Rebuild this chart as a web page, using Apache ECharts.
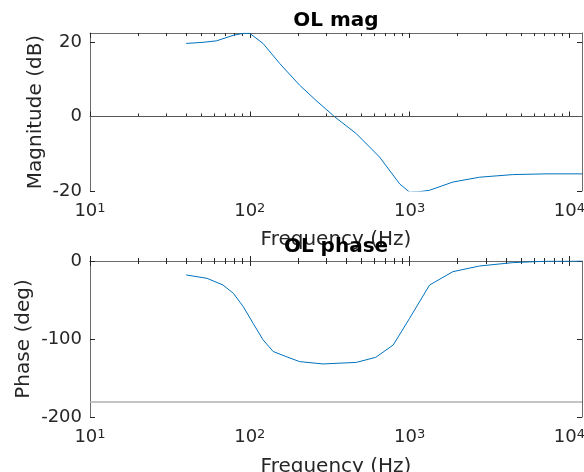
<!DOCTYPE html>
<html>
<head>
<meta charset="utf-8">
<script src="https://cdn.jsdelivr.net/npm/echarts@6/dist/echarts.min.js"></script>
<style>
  html, body { margin: 0; padding: 0; background: #fff; }
  #chart { width: 584px; height: 472px; }
</style>
</head>
<body>
<div id="chart"></div>
<script>
// open loop response
const magFreq = [40, 51, 62, 79, 91, 100, 121, 154, 205, 260, 340, 464, 649, 867, 1000, 1150, 1334, 1866, 2738, 4426, 7147, 12000];
const magDb = [19.6, 19.9, 20.3, 21.8, 22.3, 22.3, 19.6, 14.2, 8.4, 4.3, -0.1, -4.6, -10.9, -18.1, -20.3, -20.2, -19.8, -17.6, -16.3, -15.6, -15.4, -15.4];

const phaseFreq = [40, 54, 68, 79, 91, 105, 121, 140, 169, 205, 287, 464, 614, 790, 1000, 1334, 1866, 2738, 4426, 7147, 12000];
const phaseDeg = [-17.9, -22.2, -30.8, -41.5, -58.5, -80, -101, -116, -122.6, -129, -132, -130, -123.5, -107.7, -73.5, -30.8, -13.7, -6.4, -2.1, -0.3, 0];

const majorTicks = [10, 100, 1000, 10000];
const minorTicks = [20, 30, 40, 50, 60, 70, 80, 90, 200, 300, 400, 500, 600, 700, 800, 900,
  2000, 3000, 4000, 5000, 6000, 7000, 8000, 9000];
const magTicks = [-20, 0, 20];
const phaseTicks = [-200, -100, 0];

const FONT = 'DejaVu Sans';
const TXT = '#262626';
const LINE = '#6b6b6b';
const BLUE = '#0072BD';

const chart = echarts.init(document.getElementById('chart'));

function xAxes(grid, gap) {
  const base = {
    type: 'log', logBase: 10, min: 10, max: 12000, gridIndex: grid,
    splitLine: { show: false }
  };
  return [
    Object.assign({}, base, {
      position: 'bottom',
      axisLine: { show: true, lineStyle: { color: LINE, width: 1 } },
      axisTick: { show: true, inside: true, length: 5, customValues: majorTicks, lineStyle: { color: TXT } },
      axisLabel: {
        show: true, margin: 11, customValues: majorTicks,
        formatter: v => '{b|10}{s|' + Math.round(Math.log10(v)) + '}',
        rich: {
          b: { fontFamily: FONT, fontSize: 18, color: TXT, lineHeight: 26, verticalAlign: 'top' },
          s: { fontFamily: FONT, fontSize: 13, color: TXT, lineHeight: 10, verticalAlign: 'top' }
        }
      },
      name: 'Frequency (Hz)', nameLocation: 'middle', nameGap: gap, nameMoveOverlap: false,
      nameTextStyle: { fontFamily: FONT, fontSize: 20, color: TXT }
    }),
    Object.assign({}, base, {
      position: 'bottom',
      axisLine: { show: false },
      axisTick: { show: true, inside: true, length: 3, customValues: minorTicks, lineStyle: { color: TXT } },
      axisLabel: { show: false }
    }),
    Object.assign({}, base, {
      position: 'top',
      axisLine: { show: true, lineStyle: { color: LINE, width: 1 } },
      axisTick: { show: true, inside: true, length: 5, customValues: majorTicks, lineStyle: { color: TXT } },
      axisLabel: { show: false }
    }),
    Object.assign({}, base, {
      position: 'top',
      axisLine: { show: false },
      axisTick: { show: true, inside: true, length: 3, customValues: minorTicks, lineStyle: { color: TXT } },
      axisLabel: { show: false }
    })
  ];
}

function yAxes(grid, min, max, ticks, name, gap) {
  const base = {
    type: 'value', min: min, max: max, gridIndex: grid,
    splitLine: { show: false },
    axisLine: { show: true, lineStyle: { color: LINE, width: 1 } },
    axisTick: { show: true, inside: true, length: 5, customValues: ticks, lineStyle: { color: TXT } }
  };
  return [
    Object.assign({}, base, {
      position: 'left',
      axisLabel: { show: true, customValues: ticks, margin: 8, fontFamily: FONT, fontSize: 18, color: TXT },
      name: name, nameLocation: 'middle', nameGap: gap, nameMoveOverlap: false,
      nameTextStyle: { fontFamily: FONT, fontSize: 20, color: TXT }
    }),
    Object.assign({}, base, {
      position: 'right',
      axisLabel: { show: false }
    })
  ];
}

const option = {
  animation: false,
  backgroundColor: '#fff',
  title: [
    { text: 'OL mag', left: 336, top: 11, textAlign: 'center', padding: 0,
      textStyle: { fontFamily: FONT, fontSize: 20, fontWeight: 'bold', color: '#000' } },
    { text: 'OL phase', left: 336, top: 237, textAlign: 'center', padding: 0,
      textStyle: { fontFamily: FONT, fontSize: 20, fontWeight: 'bold', color: '#000' } }
  ],
  grid: [
    { left: 90, right: 2, top: 33, height: 158, outerBoundsMode: 'none' },
    { left: 90, right: 2, top: 261, height: 156, outerBoundsMode: 'none' }
  ],
  xAxis: xAxes(0, 39).concat(xAxes(1, 40)),
  yAxis: yAxes(0, -20, 22.4, magTicks, 'Magnitude (dB)', 44)
    .concat(yAxes(1, -200, 0, phaseTicks, 'Phase (deg)', 56)),
  series: [
    {
      type: 'line', xAxisIndex: 0, yAxisIndex: 0,
      data: magFreq.map((f, i) => [f, magDb[i]]),
      showSymbol: false, lineStyle: { color: BLUE, width: 1 },
      markLine: {
        silent: true, symbol: 'none', label: { show: false },
        lineStyle: { color: '#555', width: 1, type: 'solid' },
        data: [{ yAxis: 0 }]
      }
    },
    {
      type: 'line', xAxisIndex: 4, yAxisIndex: 2,
      data: phaseFreq.map((f, i) => [f, phaseDeg[i]]),
      showSymbol: false, lineStyle: { color: BLUE, width: 1 },
      markLine: {
        silent: true, symbol: 'none', label: { show: false },
        lineStyle: { color: '#b0b0b0', width: 1.5, type: 'solid' },
        data: [{ yAxis: -180 }]
      }
    }
  ]
};

chart.setOption(option);
</script>
</body>
</html>
